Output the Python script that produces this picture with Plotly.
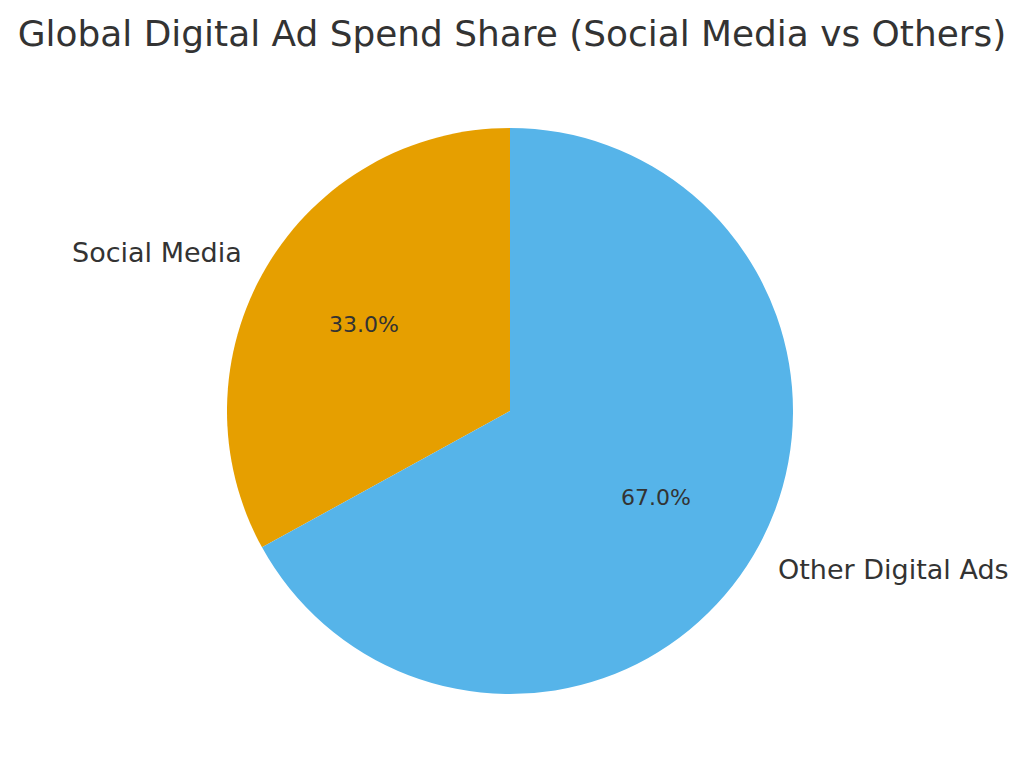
import numpy as np
import plotly.graph_objects as go

labels = ["Social Media", "Other Digital Ads"]
values = [33.0, 67.0]
colors = ["#E69F00", "#56B4E9"]

W, H = 1024, 781
cx, cy, r = 510, 411, 283  # pie centre and radius in pixels (from top-left)

dom_x = [(cx - r) / W, (cx + r) / W]
dom_y = [(H - cy - r) / H, (H - cy + r) / H]

total = sum(values)
first_span = values[0] / total * 360.0

# first slice spans counterclockwise from 12 o'clock; draw it clockwise
# starting at its far edge
fig = go.Figure(go.Pie(
    labels=labels, values=values, sort=False, direction="clockwise",
    rotation=-first_span, marker=dict(colors=colors, line=dict(width=0)),
    textinfo="none", hoverinfo="label+percent", showlegend=False,
    domain=dict(x=dom_x, y=dom_y),
))

font = "DejaVu Sans"
tcol = "#333333"
start = 90.0
annotations = []
for lab, v in zip(labels, values):
    span = v / total * 360.0
    mid = np.deg2rad(start + span / 2)
    start += span
    lx = cx + 1.1 * r * np.cos(mid)
    ly = cy - 1.1 * r * np.sin(mid)
    right = np.cos(mid) > 0
    annotations.append(dict(
        x=lx / W, y=1 - ly / H, xref="paper", yref="paper",
        text=lab, showarrow=False, xanchor="left" if right else "right",
        borderpad=0, borderwidth=0,
        yanchor="middle", font=dict(family=font, size=27, color=tcol)))
    px = cx + 0.6 * r * np.cos(mid)
    py = cy - 0.6 * r * np.sin(mid)
    annotations.append(dict(
        x=px / W, y=1 - py / H, xref="paper", yref="paper",
        text=f"{v / total * 100:.1f}%", showarrow=False, xanchor="center",
        yanchor="middle", font=dict(family=font, size=22, color=tcol)))

fig.update_layout(
    width=W, height=H, margin=dict(l=0, r=0, t=0, b=0),
    paper_bgcolor="white", plot_bgcolor="white",
    title=dict(text="Global Digital Ad Spend Share (Social Media vs Others)",
               x=0.5, xanchor="center", y=1 - 33 / H, yanchor="middle",
               font=dict(family=font, size=35.9, color=tcol)),
    annotations=annotations,
)

fig.write_html("out.html")
